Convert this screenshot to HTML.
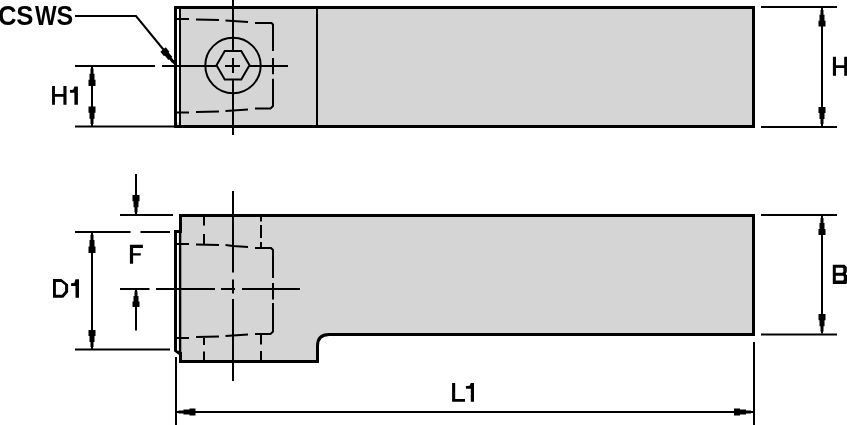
<!DOCTYPE html>
<html><head><meta charset="utf-8"><style>
html,body{margin:0;padding:0;background:#fff;width:847px;height:425px;overflow:hidden}
svg{display:block;filter:grayscale(1)}
text{font-family:"Liberation Sans",sans-serif;font-weight:bold;fill:#000}
</style></head><body>
<svg width="847" height="425" viewBox="0 0 847 425">
<g stroke="#000" stroke-linecap="butt" stroke-linejoin="miter">
<rect x="174" y="6" width="581" height="122" fill="#d5d5d5" stroke="none"/>
<rect x="175.5" y="7.5" width="578" height="119" fill="none" stroke-width="3"/>
<rect x="177" y="9" width="1.8" height="113.5" fill="#fff" stroke="none"/>
<line x1="180" y1="9" x2="180" y2="125" stroke-width="2"/>
<line x1="317" y1="9" x2="317" y2="125" stroke-width="2"/>
<polyline points="177,19 189,19" stroke-width="2" fill="none"/>
<polyline points="196,19.5 219,20" stroke-width="2" fill="none"/>
<polyline points="225.5,20.5 248,22" stroke-width="2" fill="none"/>
<path d="M255,23 L271.5,23 L273,24.5 L273,51" stroke-width="2" fill="none"/>
<polyline points="273,58 273,74.3" stroke-width="2" fill="none"/>
<path d="M273,78.8 L273,106 L270.5,108.5 L255,108.5" stroke-width="2" fill="none"/>
<polyline points="248,109.5 225.5,111" stroke-width="2" fill="none"/>
<polyline points="219,111.5 196,112" stroke-width="2" fill="none"/>
<polyline points="189,112.5 177,112.5" stroke-width="2" fill="none"/>
<circle cx="233" cy="65.5" r="27.7" fill="none" stroke-width="2"/>
<polygon points="249.50,65.20 241.25,79.49 224.75,79.49 216.50,65.20 224.75,50.91 241.25,50.91" fill="none" stroke-width="2"/>
<line x1="233" y1="0" x2="233" y2="51" stroke-width="2"/>
<line x1="233" y1="58" x2="233" y2="73" stroke-width="2"/>
<line x1="233" y1="79.5" x2="233" y2="135" stroke-width="2"/>
<line x1="75" y1="66" x2="155" y2="66" stroke-width="2"/>
<line x1="162" y1="66" x2="216.5" y2="66" stroke-width="2"/>
<line x1="225" y1="66" x2="240" y2="66" stroke-width="2"/>
<line x1="249.5" y1="66" x2="288" y2="66" stroke-width="2"/>
<polyline points="75,16 136,16 172,60" stroke-width="2" fill="none"/>
<polygon points="173.73,64.13 172.53,62.67 172.14,62.98 169.14,59.32 168.36,59.95 164.76,55.56 163.99,56.19 160.39,51.79 165.80,47.36 169.40,51.75 168.63,52.39 172.23,56.79 171.46,57.42 174.46,61.08 174.07,61.40 175.27,62.87" stroke="none" fill="#000"/>
<line x1="75" y1="126.5" x2="174" y2="126.5" stroke-width="2"/>
<line x1="92" y1="68" x2="92" y2="125" stroke-width="2"/>
<polygon points="93.00,66.50 93.00,68.55 93.50,68.55 93.50,73.68 94.50,73.68 94.50,79.84 95.50,79.84 95.50,86.00 88.50,86.00 88.50,79.84 89.50,79.84 89.50,73.68 90.50,73.68 90.50,68.55 91.00,68.55 91.00,66.50" stroke="none" fill="#000"/>
<polygon points="91.00,126.00 91.00,123.95 90.50,123.95 90.50,118.82 89.50,118.82 89.50,112.66 88.50,112.66 88.50,106.50 95.50,106.50 95.50,112.66 94.50,112.66 94.50,118.82 93.50,118.82 93.50,123.95 93.00,123.95 93.00,126.00" stroke="none" fill="#000"/>
<line x1="761" y1="7" x2="837" y2="7" stroke-width="2"/>
<line x1="761" y1="127" x2="837" y2="127" stroke-width="2"/>
<line x1="822" y1="9" x2="822" y2="125" stroke-width="2"/>
<polygon points="823.00,8.00 823.00,9.95 823.50,9.95 823.50,14.82 824.50,14.82 824.50,20.66 825.50,20.66 825.50,26.50 818.50,26.50 818.50,20.66 819.50,20.66 819.50,14.82 820.50,14.82 820.50,9.95 821.00,9.95 821.00,8.00" stroke="none" fill="#000"/>
<polygon points="821.00,126.00 821.00,124.00 820.50,124.00 820.50,119.00 819.50,119.00 819.50,113.00 818.50,113.00 818.50,107.00 825.50,107.00 825.50,113.00 824.50,113.00 824.50,119.00 823.50,119.00 823.50,124.00 823.00,124.00 823.00,126.00" stroke="none" fill="#000"/>
<path d="M179,214 L755,214 L755,336 L330,336 Q318,336 318,348 L318,363 L179,363 L179,353 L174,351 L174,230 L179,230 Z" stroke-width="0" fill="#d5d5d5"/>
<path d="M180.5,233 L180.5,215.5 L753.5,215.5 L753.5,334.5 L329,334.5 Q317.5,334.5 317.5,346 L317.5,361.5 L180.5,361.5 L180.5,352" stroke-width="3" fill="none"/>
<path d="M181.5,231.5 L175.5,231.5 L175.5,350.5 L179.5,353.5" stroke-width="3" fill="none"/>
<rect x="177" y="233" width="1.9" height="117.5" fill="#fff" stroke="none"/>
<line x1="180.1" y1="233" x2="180.1" y2="352" stroke-width="2.4"/>
<polyline points="177,244 189,244" stroke-width="2" fill="none"/>
<polyline points="196,244.5 219,245" stroke-width="2" fill="none"/>
<polyline points="225.5,245 233,246 248,247" stroke-width="2" fill="none"/>
<path d="M255,248 L271,248 L273,250 L273,278" stroke-width="2" fill="none"/>
<polyline points="273,283 273,299.5" stroke-width="2" fill="none"/>
<path d="M273,303 L273,331.5 L270.5,334 L255,334" stroke-width="2" fill="none"/>
<polyline points="248,334.5 233,335.5 225.5,336" stroke-width="2" fill="none"/>
<polyline points="219,336.5 196,337" stroke-width="2" fill="none"/>
<polyline points="189,338 177,338" stroke-width="2" fill="none"/>
<line x1="204" y1="217" x2="204" y2="225.5" stroke-width="2"/>
<line x1="204" y1="234" x2="204" y2="244" stroke-width="2"/>
<line x1="261" y1="217" x2="261" y2="221.5" stroke-width="2"/>
<line x1="261" y1="225" x2="261" y2="238" stroke-width="2"/>
<line x1="261" y1="242" x2="261" y2="247" stroke-width="2"/>
<line x1="204" y1="338" x2="204" y2="345" stroke-width="2"/>
<line x1="204" y1="351.5" x2="204" y2="360" stroke-width="2"/>
<line x1="261" y1="335" x2="261" y2="344.5" stroke-width="2"/>
<line x1="261" y1="351" x2="261" y2="360" stroke-width="2"/>
<line x1="233" y1="191" x2="233" y2="272.5" stroke-width="2"/>
<line x1="233" y1="279.5" x2="233" y2="293.5" stroke-width="2"/>
<line x1="233" y1="299" x2="233" y2="381" stroke-width="2"/>
<line x1="120" y1="289" x2="149.5" y2="289" stroke-width="2"/>
<line x1="156" y1="289" x2="215" y2="289" stroke-width="2"/>
<line x1="221" y1="289" x2="235" y2="289" stroke-width="2"/>
<line x1="242" y1="289" x2="300" y2="289" stroke-width="2"/>
<line x1="75" y1="232" x2="130.5" y2="232" stroke-width="2"/>
<line x1="140.5" y1="232" x2="170" y2="232" stroke-width="2"/>
<line x1="75" y1="349.5" x2="170" y2="349.5" stroke-width="2"/>
<line x1="92" y1="234" x2="92" y2="348" stroke-width="2"/>
<polygon points="93.00,232.50 93.00,234.66 93.50,234.66 93.50,240.05 94.50,240.05 94.50,246.53 95.50,246.53 95.50,253.00 88.50,253.00 88.50,246.53 89.50,246.53 89.50,240.05 90.50,240.05 90.50,234.66 91.00,234.66 91.00,232.50" stroke="none" fill="#000"/>
<polygon points="91.00,349.00 91.00,347.00 90.50,347.00 90.50,342.00 89.50,342.00 89.50,336.00 88.50,336.00 88.50,330.00 95.50,330.00 95.50,336.00 94.50,336.00 94.50,342.00 93.50,342.00 93.50,347.00 93.00,347.00 93.00,349.00" stroke="none" fill="#000"/>
<line x1="120" y1="215" x2="173" y2="215" stroke-width="2"/>
<line x1="136" y1="174" x2="136" y2="213" stroke-width="2"/>
<polygon points="135.00,214.50 135.00,212.45 134.50,212.45 134.50,207.32 133.50,207.32 133.50,201.16 132.50,201.16 132.50,195.00 139.50,195.00 139.50,201.16 138.50,201.16 138.50,207.32 137.50,207.32 137.50,212.45 137.00,212.45 137.00,214.50" stroke="none" fill="#000"/>
<line x1="136" y1="291" x2="136" y2="330.5" stroke-width="2"/>
<polygon points="137.00,289.50 137.00,291.34 137.50,291.34 137.50,295.95 138.50,295.95 138.50,301.47 139.50,301.47 139.50,307.00 132.50,307.00 132.50,301.47 133.50,301.47 133.50,295.95 134.50,295.95 134.50,291.34 135.00,291.34 135.00,289.50" stroke="none" fill="#000"/>
<line x1="761" y1="215" x2="837" y2="215" stroke-width="2"/>
<line x1="761" y1="334.5" x2="837" y2="334.5" stroke-width="2"/>
<line x1="822" y1="217" x2="822" y2="333" stroke-width="2"/>
<polygon points="823.00,216.00 823.00,218.00 823.50,218.00 823.50,223.00 824.50,223.00 824.50,229.00 825.50,229.00 825.50,235.00 818.50,235.00 818.50,229.00 819.50,229.00 819.50,223.00 820.50,223.00 820.50,218.00 821.00,218.00 821.00,216.00" stroke="none" fill="#000"/>
<polygon points="821.00,333.50 821.00,331.45 820.50,331.45 820.50,326.32 819.50,326.32 819.50,320.16 818.50,320.16 818.50,314.00 825.50,314.00 825.50,320.16 824.50,320.16 824.50,326.32 823.50,326.32 823.50,331.45 823.00,331.45 823.00,333.50" stroke="none" fill="#000"/>
<line x1="176" y1="357" x2="176" y2="425" stroke-width="2"/>
<line x1="754" y1="342" x2="754" y2="425" stroke-width="2"/>
<line x1="178" y1="412" x2="752" y2="412" stroke-width="2"/>
<polygon points="176.50,411.00 178.50,411.00 178.50,410.50 183.50,410.50 183.50,409.50 189.50,409.50 189.50,408.50 195.50,408.50 195.50,415.50 189.50,415.50 189.50,414.50 183.50,414.50 183.50,413.50 178.50,413.50 178.50,413.00 176.50,413.00" stroke="none" fill="#000"/>
<polygon points="753.00,413.00 751.00,413.00 751.00,413.50 746.00,413.50 746.00,414.50 740.00,414.50 740.00,415.50 734.00,415.50 734.00,408.50 740.00,408.50 740.00,409.50 746.00,409.50 746.00,410.50 751.00,410.50 751.00,411.00 753.00,411.00" stroke="none" fill="#000"/>
</g>
<text transform="translate(-1.95,24.73) scale(0.9142,1)" font-size="28.11">C</text><text transform="translate(16.36,24.73) scale(0.9145,1)" font-size="28.11">S</text><text transform="translate(34.88,24.60) scale(0.8482,1)" font-size="27.04">W</text><text transform="translate(56.38,24.73) scale(0.8908,1)" font-size="28.11">S</text><path fill="#000" d="M52.06,86 H54.96 V94.1 H63.4 V86 H66.5 V104.8 H63.4 V96.7 H54.96 V104.8 H52.06 Z"/><polygon fill="#000" points="74.40,86.50 77.90,86.50 77.90,104.80 74.40,104.80 74.40,92.70 70.00,92.70 70.00,90.00 73.20,89.80 74.40,86.50"/><path fill="#000" fill-rule="evenodd" d="M53,278.9 H61.5 L68.1,284.6 V292.3 L63.2,297.7 H53 Z M55.9,281.9 H61.2 L65.1,285.3 V291.1 L62,294.7 H55.9 Z"/><polygon fill="#000" points="75.50,279.30 79.00,279.30 79.00,297.70 75.50,297.70 75.50,285.90 71.10,285.90 71.10,283.20 74.30,283.00 75.50,279.30"/><path fill="#000" d="M452.1,383 H455.2 V398.9 H465 V401.7 H452.1 Z"/><polygon fill="#000" points="470.80,383.00 474.00,383.00 474.00,401.70 470.80,401.70 470.80,388.70 465.90,388.70 465.90,385.90 469.60,385.70 470.80,383.00"/><path fill="#000" d="M129.9,244.8 H142.9 V247.9 H133.1 V253.2 H140.8 V255.6 H133.1 V263.8 H129.9 Z"/><path fill="#000" d="M832.9,56.8 H836 V65.2 H844.2 V56.8 H847.4 V75.8 H844.2 V68 H836 V75.8 H832.9 Z"/><path fill="#000" fill-rule="evenodd" d="M832.8,264.8 H844.5 L846.8,267 V271.5 L845.8,274.2 L848,276.3 V282 L846,284 H832.8 Z M835.8,267.8 H842.6 L843.3,268.6 V271.9 L842.4,272.7 H835.8 Z M835.8,275.7 H843 L843.8,276.5 V279.8 L843,280.6 H835.8 Z"/>
</svg>
</body></html>
